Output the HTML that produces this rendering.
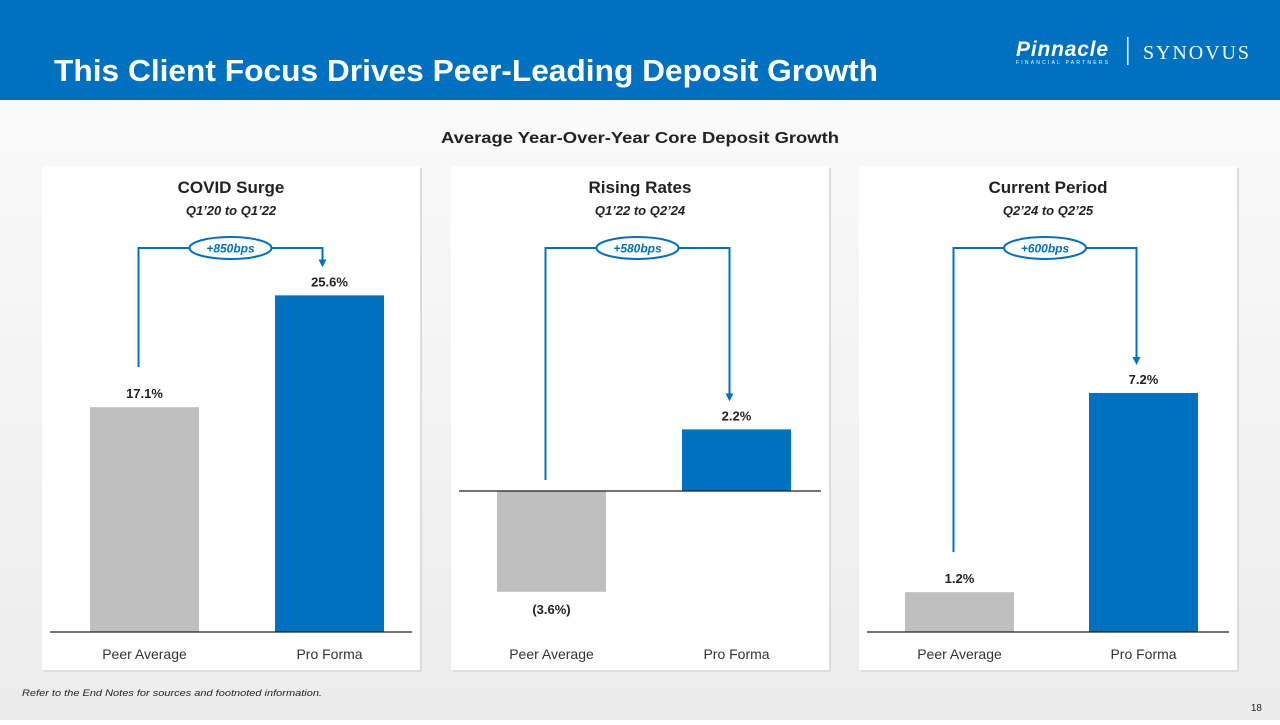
<!DOCTYPE html>
<html><head><meta charset="utf-8">
<style>
body{margin:0;width:1280px;height:720px;overflow:hidden;background:#fff;font-family:"Liberation Sans",sans-serif}
svg text{font-family:"Liberation Sans",sans-serif}
</style></head>
<body>
<svg id="chart" width="1280" height="720" viewBox="0 0 1280 720" xmlns="http://www.w3.org/2000/svg">
<defs>
<linearGradient id="bg" x1="0" y1="0" x2="0" y2="1"><stop offset="0" stop-color="#fafafa"/><stop offset="1" stop-color="#ececec"/></linearGradient>
<marker id="ah" markerWidth="8" markerHeight="8" refX="4" refY="4" orient="auto" markerUnits="userSpaceOnUse"><path d="M0,0 L8,4 L0,8 z" fill="#0070c0"/></marker>
</defs>
<rect x="0" y="100" width="1280" height="620" fill="url(#bg)"/>
<rect x="0" y="0" width="1280" height="100" fill="#0070c0"/>
<text x="54" y="81" font-size="31" font-weight="bold" fill="#fff" textLength="824" lengthAdjust="spacingAndGlyphs">This Client Focus Drives Peer-Leading Deposit Growth</text>
<g>
<text x="1016" y="56" font-size="21" font-weight="bold" font-style="italic" fill="#fff" textLength="92">Pinnacle</text>
<text x="1016" y="64" font-size="5" fill="#fff" textLength="92">FINANCIAL PARTNERS</text>
<rect x="1127" y="37" width="1.5" height="28" fill="#fff"/>
<text x="1143" y="59" font-size="20" fill="#fff" font-family="Liberation Serif" style="font-family:'Liberation Serif',serif" textLength="106">SYNOVUS</text>
</g>
<text x="441" y="143" font-size="16" font-weight="bold" fill="#222" textLength="398" lengthAdjust="spacingAndGlyphs">Average Year-Over-Year Core Deposit Growth</text>
<g id="panels"></g>
<text x="22" y="696" font-size="9" font-style="italic" fill="#222" textLength="300" lengthAdjust="spacingAndGlyphs">Refer to the End Notes for sources and footnoted information.</text>
<text x="1262" y="711" font-size="10" text-anchor="end" fill="#222">18</text>
</svg>
<script>
const panelTitles=["COVID Surge","Rising Rates","Current Period"];
const panelSubtitles=["Q1\u201920 to Q1\u201922","Q1\u201922 to Q2\u201924","Q2\u201924 to Q2\u201925"];
const categories=["Peer Average","Pro Forma"];
const peerValues=[17.1,-3.6,1.2];
const proFormaValues=[25.6,2.2,7.2];
const valueLabels=[["17.1%","25.6%"],["(3.6%)","2.2%"],["1.2%","7.2%"]];
const spreadLabels=["+850bps","+580bps","+600bps"];

const NS="http://www.w3.org/2000/svg";
const g=document.getElementById('panels');
function mk(tag,attrs,parent,txt){const e=document.createElementNS(NS,tag);for(const k in attrs)e.setAttribute(k,attrs[k]);if(txt!==undefined)e.textContent=txt;(parent||g).appendChild(e);return e;}
const panelX=[42,451,859],panelW=378;
const baseY=[632,491,632];
const scale=[13.15,28.0,33.2];
const bandOff=[[48,233],[46,231],[46,230]];
function yScale(p,v){return baseY[p]-v*scale[p];}
function xBand(p,i){return panelX[p]+bandOff[p][i];}
const barW=109;
for(let p=0;p<3;p++){
  const pg=mk('g',{});
  
  
  const px=panelX[p],cx=px+panelW/2;
  mk('rect',{x:px+2,y:168,width:panelW,height:504,fill:'#dcdcdc'},pg);
  const r=mk('rect',{x:px,y:166,width:panelW,height:504,fill:'#fff'},pg);
  
  
  const t=mk('text',{x:cx,y:193,'font-size':17,'font-weight':'bold','text-anchor':'middle',fill:'#222'},pg,panelTitles[p]);
  
  
  const st=mk('text',{x:cx,y:215,'font-size':13,'font-weight':'bold','font-style':'italic','text-anchor':'middle',fill:'#222'},pg,panelSubtitles[p]);
  
  
  const vals=[peerValues[p],proFormaValues[p]];
  const tops=[];
  for(let i=0;i<2;i++){
    const v=vals[i],y0=yScale(p,0),y1=yScale(p,v);
    const bx=xBand(p,i);
    const b=mk('rect',{x:bx,y:Math.min(y0,y1),width:barW,height:Math.abs(y1-y0),fill:i===0?'#bfbfbf':'#0070c0'},pg);
    
    
    const ly=v>=0?y1-9:y1+22;
    tops.push(v>=0?y1:y0);
    const l=mk('text',{x:bx+barW/2,y:ly,'font-size':13,'font-weight':'bold','text-anchor':'middle',fill:'#222'},pg,valueLabels[p][i]);
    
    
    const c=mk('text',{x:bx+barW/2,y:659,'font-size':14,'text-anchor':'middle',fill:'#333'},pg,categories[i]);
    
    
  }
  const ax=mk('line',{x1:px+8,x2:px+panelW-8,y1:baseY[p],y2:baseY[p],stroke:'#222','stroke-width':1.2},pg);
  
  
  const lx=xBand(p,0)+barW/2-6,rx=xBand(p,1)+barW/2-7,topY=248;
  const leftBottom=tops[0]-(peerValues[p]>=0?40:11);
  const rightBottom=tops[1]-32;
  const br=mk('path',{d:`M${lx},${leftBottom} V${topY} H${rx} V${rightBottom}`,fill:'none',stroke:'#0070c0','stroke-width':2,'marker-end':'url(#ah)'},pg);
  
  
  const ex=(lx+rx)/2;
  const el=mk('ellipse',{cx:ex,cy:topY,rx:41,ry:11,fill:'#fff',stroke:'#0070c0','stroke-width':2},pg);
  
  
  const sl=mk('text',{x:ex,y:topY+4.5,'font-size':12,'font-weight':'bold','font-style':'italic','text-anchor':'middle',fill:'#0070c0'},pg,spreadLabels[p]);
  
  
}
</script>
</body></html>
